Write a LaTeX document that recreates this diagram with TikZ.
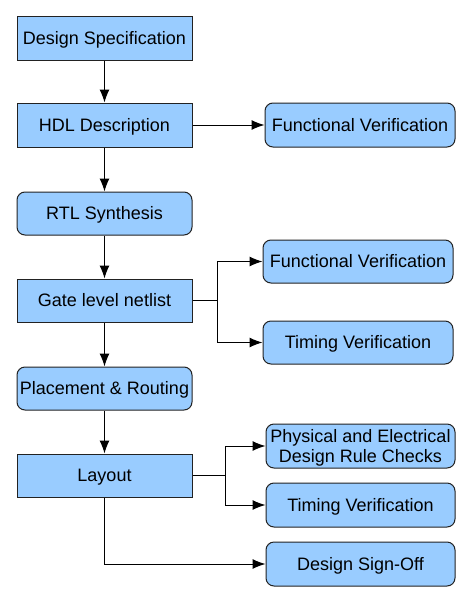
\documentclass[tikz,border=0pt]{standalone}
\usepackage{fontspec}
\setmainfont{Liberation Sans}
\usetikzlibrary{arrows.meta}
\definecolor{boxfill}{HTML}{99CCFF}
\definecolor{boxline}{HTML}{222222}
\tikzset{
  flowbox/.style={draw=boxline, line width=1pt, fill=boxfill, inner sep=0pt,
    minimum width=175pt, minimum height=43pt, align=center,
    text height=12.9pt, text depth=0pt,
    font=\fontsize{18}{20.8}\selectfont, text=black},
  roundbox/.style={flowbox, rounded corners=8pt},
  sidebox/.style={roundbox, minimum width=190pt},
  arr/.style={line width=1pt, -{Latex[length=13pt,width=10pt]}},
  plain/.style={line width=1pt}
}
\begin{document}
\begin{tikzpicture}[x=1pt,y=-1pt]
\useasboundingbox[fill=white] (0,0) rectangle (470,600);
\node[flowbox, minimum height=44pt] (ds) at (104.5,38) {Design Specification};
\node[flowbox, minimum height=44pt] (hdl) at (104.5,125) {HDL Description};
\node[roundbox] (rtl) at (104.5,213.5) {RTL Synthesis};
\node[flowbox] (gate) at (104.5,300.5) {Gate level netlist};
\node[roundbox] (pr) at (104.5,388.5) {Placement \& Routing};
\node[flowbox] (lay) at (104.5,475.5) {Layout};
\node[sidebox, minimum height=44pt] (fv1) at (360,125) {Functional Verification};
\node[sidebox] (fv2) at (358,261.5) {Functional Verification};
\node[sidebox] (tv1) at (358,342.5) {Timing Verification};
\node[sidebox, minimum width=189pt, minimum height=44pt, text height=33.7pt, text depth=0pt] (pe) at (360.5,446) {Physical and Electrical\\Design Rule Checks};
\node[sidebox, minimum width=189pt, minimum height=44pt] (tv2) at (360.5,505) {Timing Verification};
\node[sidebox, minimum width=189pt, minimum height=44pt] (dso) at (360.5,564) {Design Sign-Off};
\draw[arr] (ds) -- (hdl);
\draw[arr] (hdl) -- (rtl);
\draw[arr] (rtl) -- (gate);
\draw[arr] (gate) -- (pr);
\draw[arr] (pr) -- (lay);
\draw[arr] (hdl) -- (fv1);
\coordinate (gj) at (217,300.5);
\draw[plain] (gate.east) -- (gj);
\draw[arr] (gj) |- (fv2.west);
\draw[arr] (gj) |- (tv1.west);
\coordinate (lj) at (225,475.5);
\draw[plain] (lay.east) -- (lj);
\draw[arr] (lj) |- (pe.west);
\draw[arr] (lj) |- (tv2.west);
\draw[arr] (lay.south) |- (dso.west);
\end{tikzpicture}
\end{document}
